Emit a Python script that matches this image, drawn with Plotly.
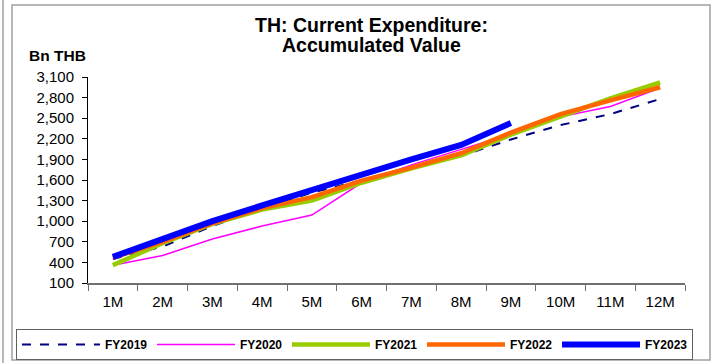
import plotly.graph_objects as go

# Accumulated current expenditure by fiscal month (Bn THB)
months = ["1M", "2M", "3M", "4M", "5M", "6M", "7M", "8M", "9M", "10M", "11M", "12M"]
fy2019 = [450, 630, 930, 1190, 1415, 1600, 1780, 1950, 2190, 2400, 2560, 2780]
fy2020 = [360, 500, 740, 930, 1090, 1560, 1820, 2040, 2270, 2520, 2670, 2940]
fy2021 = [360, 680, 960, 1170, 1300, 1560, 1770, 1960, 2260, 2530, 2790, 3020]
fy2022 = [470, 700, 970, 1190, 1350, 1590, 1780, 1990, 2290, 2560, 2760, 2950]
fy2023 = [480, 740, 1000, 1230, 1460, 1680, 1900, 2110, 2430]

y_ticks = list(range(100, 3101, 300))

FONT = "Liberation Sans, Arial, sans-serif"

series = [
    ("FY2019", fy2019, dict(color="#000080", width=2, dash="dash")),
    ("FY2020", fy2020, dict(color="#FF00FF", width=1.5)),
    ("FY2021", fy2021, dict(color="#99CC00", width=4.5)),
    ("FY2022", fy2022, dict(color="#FF6600", width=4.5)),
    ("FY2023", fy2023, dict(color="#0000FF", width=6)),
]

fig = go.Figure()
for name, vals, line in series:
    fig.add_trace(go.Scatter(
        x=months[:len(vals)], y=vals, name=name, mode="lines", line=line,
    ))

# plot area in pixels: x 88..685, y 77..283
L, R, T, B = 88, 27, 77, 80
W, H = 712, 363
pw, ph = W - L - R, H - T - B


def px(x):
    return (x - L) / pw


def py(y):
    return (H - B - y) / ph


fig.update_layout(
    width=W, height=H,
    margin=dict(l=L, r=R, t=T, b=B, autoexpand=False),
    paper_bgcolor="white", plot_bgcolor="white",
    font=dict(family=FONT, color="black"),
    showlegend=True,
    legend=dict(
        orientation="h", x=px(16), xanchor="left", y=py(329), yanchor="top",
        bordercolor="#606060", borderwidth=1,
        itemwidth=78,
        entrywidth=42, entrywidthmode="pixels",
        font=dict(family=FONT, size=12, weight="bold"),
    ),
    xaxis=dict(
        type="category", categoryorder="array", categoryarray=months,
        range=[-0.5, 11.5],
        showline=True, linecolor="#707070", linewidth=1.5,
        ticks="outside", tickson="boundaries", ticklen=6, tickcolor="#707070",
        showgrid=False, zeroline=False, ticklabelstandoff=4,
        tickfont=dict(family=FONT, size=15),
    ),
    yaxis=dict(
        range=[100, 3100], tickvals=y_ticks, tickformat=",",
        showline=True, linecolor="black", linewidth=1,
        ticks="outside", ticklen=5, tickcolor="black",
        showgrid=False, zeroline=False, ticklabelstandoff=5,
        tickfont=dict(family=FONT, size=15),
    ),
    annotations=[
        dict(text="<b>TH: Current Expenditure:</b>",
             xref="paper", yref="paper", x=px(371), y=py(25),
             xanchor="center", yanchor="middle", showarrow=False,
             font=dict(family=FONT, size=19.5)),
        dict(text="<b>Accumulated Value</b>",
             xref="paper", yref="paper", x=px(371), y=py(45),
             xanchor="center", yanchor="middle", showarrow=False,
             font=dict(family=FONT, size=19.5)),
        dict(text="<b>Bn THB</b>", xref="paper", yref="paper",
             x=px(27), y=py(55), xanchor="left", yanchor="middle",
             showarrow=False, font=dict(family=FONT, size=15.5)),
    ],
    shapes=[
        dict(type="rect", xref="paper", yref="paper",
             x0=px(12), x1=px(710), y0=py(360), y1=py(5),
             line=dict(color="#A0A0A0", width=1.5)),
        dict(type="line", xref="paper", yref="paper",
             x0=px(3), x1=px(3), y0=py(363), y1=py(0),
             line=dict(color="#A0A0A0", width=1.5)),
    ],
)

fig.write_html("out.html")
